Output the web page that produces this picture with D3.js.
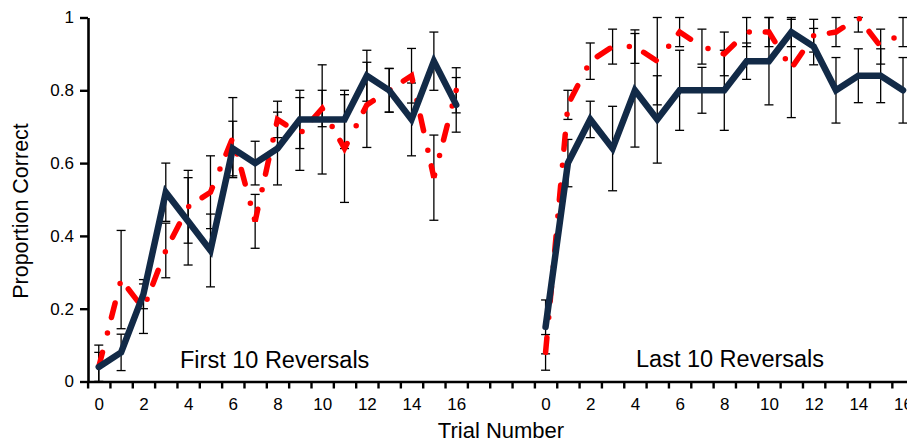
<!DOCTYPE html>
<html>
<head>
<meta charset="utf-8">
<script src="https://cdn.jsdelivr.net/npm/d3@7"></script>
<style>
  body { margin: 0; background: #fff; }
  svg { display: block; font-family: "Liberation Sans", Arial, sans-serif; }
</style>
</head>
<body>
<script>
// Trials shown in each block (x categories), blank slots between the two blocks
const trials = [0, 1, 2, 3, 4, 5, 6, 7, 8, 9, 10, 11, 12, 13, 14, 15, 16];
const gapSlots = 3;
const xTickLabels = ['0', '2', '4', '6', '8', '10', '12', '14', '16'];
const yTicks = [0, 0.2, 0.4, 0.6, 0.8, 1];
const yTickLabels = ['0', '0.2', '0.4', '0.6', '0.8', '1'];

// First 10 reversals
const firstSolid = [0.04, 0.08, 0.24, 0.52, 0.44, 0.36, 0.64, 0.60, 0.64, 0.72, 0.72, 0.72, 0.84, 0.80, 0.72, 0.88, 0.76];
const firstSolidErr = [0.06, 0.05, 0.04, 0.08, 0.12, 0.10, 0.075, 0.06, 0.10, 0.08, 0.15, 0.08, 0.07, 0.06, 0.10, 0.08, 0.075];
const firstDashed = [0.04, 0.28, 0.20, 0.36, 0.48, 0.52, 0.67, 0.44, 0.72, 0.68, 0.75, 0.64, 0.76, 0.80, 0.84, 0.56, 0.80];
const firstDashedErr = [0.04, 0.135, 0.068, 0.075, 0.10, 0.10, 0.11, 0.074, 0.05, 0.10, 0.05, 0.148, 0.117, 0.06, 0.075, 0.117, 0.062];

// Last 10 reversals
const lastSolid = [0.15, 0.60, 0.72, 0.64, 0.80, 0.72, 0.80, 0.80, 0.80, 0.88, 0.88, 0.96, 0.92, 0.80, 0.84, 0.84, 0.80];
const lastSolidErr = [0.074, 0.065, 0.05, 0.116, 0.156, 0.12, 0.11, 0.063, 0.11, 0.05, 0.12, 0.04, 0.05, 0.09, 0.074, 0.074, 0.09];
const lastDashed = [0.08, 0.76, 0.88, 0.92, 0.92, 0.88, 0.96, 0.92, 0.90, 0.96, 0.96, 0.86, 0.95, 0.96, 1.0, 0.92, 0.96];
const lastDashedErr = [0.049, 0.04, 0.05, 0.048, 0.046, 0.12, 0.04, 0.048, 0.06, 0.04, 0.04, 0.135, 0.045, 0.04, 0.04, 0.048, 0.04];

const width = 907;
const height = 442;
const navy = '#122a47';
const red = '#ff0000';

const offset = trials.length + gapSlots; // slot index of the first "last" trial
const nSlots = offset + trials.length;

const svg = d3.select('body')
  .append('svg')
  .attr('width', width)
  .attr('height', height);

// slot index -> pixel
const x = d3.scaleLinear()
  .domain([-0.5, nSlots - 0.5])
  .range([87.6, 87.6 + nSlots * 22.34]);

const y = d3.scaleLinear()
  .domain([0, 1])
  .range([381.5, 17.5]);

const blocks = [
  { start: 0, solid: firstSolid, solidErr: firstSolidErr, dashed: firstDashed, dashedErr: firstDashedErr },
  { start: offset, solid: lastSolid, solidErr: lastSolidErr, dashed: lastDashed, dashedErr: lastDashedErr }
];

// Error bars
const clamp = v => Math.max(0, Math.min(1, v));
const bars = [];
blocks.forEach(b => {
  trials.forEach((t, i) => {
    bars.push({ slot: b.start + t, v: b.solid[i], e: b.solidErr[i] });
    bars.push({ slot: b.start + t, v: b.dashed[i], e: b.dashedErr[i] });
  });
});

const eb = svg.append('g')
  .attr('stroke', '#000')
  .attr('stroke-width', 1.3);

eb.selectAll('.bar')
  .data(bars)
  .enter()
  .append('line')
  .attr('x1', d => x(d.slot))
  .attr('x2', d => x(d.slot))
  .attr('y1', d => y(clamp(d.v - d.e)))
  .attr('y2', d => y(clamp(d.v + d.e)));

const caps = bars.flatMap(d => [
  { slot: d.slot, v: clamp(d.v - d.e) },
  { slot: d.slot, v: clamp(d.v + d.e) }
]);

eb.selectAll('.cap')
  .data(caps)
  .enter()
  .append('line')
  .attr('x1', d => x(d.slot) - 4.5)
  .attr('x2', d => x(d.slot) + 4.5)
  .attr('y1', d => y(d.v))
  .attr('y2', d => y(d.v));

// Lines
const line = d3.line()
  .x(d => x(d.slot))
  .y(d => y(d.v));

blocks.forEach(b => {
  svg.append('path')
    .datum(trials.map((t, i) => ({ slot: b.start + t, v: b.dashed[i] })))
    .attr('fill', 'none')
    .attr('stroke', red)
    .attr('stroke-width', 5.5)
    .attr('stroke-linecap', 'round')
    .attr('stroke-dasharray', '15,20,0,16')
    .attr('d', line);
});

blocks.forEach(b => {
  svg.append('path')
    .datum(trials.map((t, i) => ({ slot: b.start + t, v: b.solid[i] })))
    .attr('fill', 'none')
    .attr('stroke', navy)
    .attr('stroke-width', 6.5)
    .attr('stroke-linejoin', 'miter')
    .attr('stroke-linecap', 'round')
    .attr('d', line);
});

// Axes
const yAxis = svg.append('g')
  .attr('transform', `translate(${x(-0.5) + 0.4},0)`)
  .call(d3.axisLeft(y)
    .tickValues(yTicks)
    .tickFormat((d, i) => yTickLabels[i])
    .tickSize(8)
    .tickSizeOuter(0)
    .tickPadding(6));

const tickSlots = d3.range(nSlots + 1).map(k => k - 0.5);
const labelSlots = [];
const labelText = [];
[0, offset].forEach(start => {
  xTickLabels.forEach(l => {
    labelSlots.push(start + (+l));
    labelText.push(l);
  });
});

const xAxis = svg.append('g')
  .attr('transform', `translate(0,${y(0)})`)
  .call(d3.axisBottom(x)
    .tickValues(tickSlots)
    .tickFormat('')
    .tickSize(7)
    .tickSizeOuter(0));

const xLabels = svg.append('g')
  .attr('transform', `translate(0,${y(0)})`)
  .call(d3.axisBottom(x)
    .tickValues(labelSlots)
    .tickFormat((d, i) => labelText[i])
    .tickSize(0)
    .tickPadding(16));
xLabels.select('.domain').remove();

[yAxis, xAxis].forEach(g => {
  g.select('.domain').attr('stroke-width', 2.6);
  g.selectAll('.tick line').attr('stroke-width', 2.4);
});
[yAxis, xLabels].forEach(g => {
  g.selectAll('.tick text')
    .attr('font-size', 17)
    .attr('font-family', '"Liberation Sans", Arial, sans-serif')
    .attr('fill', '#000');
});

// Titles and block labels
svg.append('text')
  .attr('x', 501)
  .attr('y', 438)
  .attr('text-anchor', 'middle')
  .attr('font-size', 22)
  .text('Trial Number');

svg.append('text')
  .attr('transform', 'translate(28,211) rotate(-90)')
  .attr('text-anchor', 'middle')
  .attr('font-size', 21.5)
  .text('Proportion Correct');

svg.append('text')
  .attr('x', 180)
  .attr('y', 367.5)
  .attr('font-size', 23.5)
  .text('First 10 Reversals');

svg.append('text')
  .attr('x', 636)
  .attr('y', 366.7)
  .attr('font-size', 23.5)
  .text('Last 10 Reversals');
</script>
</body>
</html>
